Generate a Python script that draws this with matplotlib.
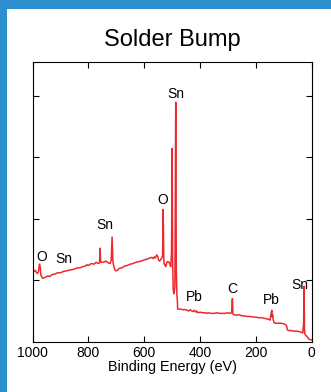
import matplotlib.pyplot as plt
from matplotlib.patches import Rectangle

plt.rcParams['font.family'] = ['Liberation Sans', 'DejaVu Sans']

# XPS survey spectrum (binding energy in eV, counts in tick units)
energy = [1000, 995, 990, 984, 979, 975, 972, 970, 966, 963, 958, 952, 945, 938, 930,
          920, 910, 900, 890, 880, 870, 860, 850, 840, 830, 820, 810, 805, 798, 790,
          780, 772, 764, 760, 758, 756, 752, 745, 738, 734, 728, 722, 718, 715, 712,
          710, 706, 702, 696, 690, 680, 670, 660, 650, 640, 630, 620, 610, 600, 590,
          580, 573, 568, 564, 560, 555, 551, 549, 545, 540, 537, 534, 532, 530, 529,
          526, 523, 518, 513, 509, 505, 502, 500, 498, 496, 493, 490, 487, 485, 483,
          481, 480, 470, 460, 450, 447, 440, 435, 430, 425, 420, 415, 412, 408, 400,
          390, 380, 376, 370, 360, 350, 340, 330, 320, 310, 300, 292, 287, 284, 282,
          280, 270, 260, 250, 240, 230, 220, 209, 200, 190, 180, 170, 160, 152, 149,
          146, 143, 141, 140, 138, 135, 130, 120, 110, 100, 95, 90, 87, 80, 70,
          60, 50, 42, 36, 32, 29, 27, 26, 24, 20, 16, 12, 8, 4, 0]
counts = [1.15, 1.14, 1.16, 1.11, 1.13, 1.26, 1.20, 1.08, 1.05, 1.03, 1.04, 1.05, 1.07, 1.06, 1.09,
          1.10, 1.12, 1.12, 1.14, 1.15, 1.16, 1.17, 1.18, 1.20, 1.20, 1.22, 1.23, 1.25, 1.24, 1.27,
          1.26, 1.29, 1.27, 1.28, 1.52, 1.30, 1.29, 1.29, 1.31, 1.30, 1.28, 1.27, 1.33, 1.70, 1.30,
          1.25, 1.18, 1.15, 1.16, 1.19, 1.20, 1.23, 1.24, 1.26, 1.27, 1.29, 1.30, 1.31, 1.33, 1.34,
          1.36, 1.37, 1.35, 1.38, 1.36, 1.41, 1.38, 1.33, 1.31, 1.34, 1.36, 1.40, 2.15, 1.45, 1.27,
          1.25, 1.22, 1.30, 1.30, 1.27, 1.22, 1.45, 3.14, 1.30, 0.84, 0.78, 0.90, 3.89, 1.20, 0.78,
          0.65, 0.53, 0.53, 0.52, 0.52, 0.51, 0.50, 0.52, 0.50, 0.49, 0.51, 0.48, 0.50, 0.47, 0.48,
          0.47, 0.47, 0.46, 0.47, 0.46, 0.46, 0.47, 0.46, 0.46, 0.46, 0.47, 0.46, 0.47, 0.70, 0.45,
          0.44, 0.43, 0.44, 0.42, 0.42, 0.41, 0.41, 0.40, 0.40, 0.39, 0.39, 0.38, 0.37, 0.36, 0.35,
          0.44, 0.51, 0.40, 0.44, 0.36, 0.31, 0.30, 0.30, 0.30, 0.29, 0.28, 0.26, 0.19, 0.18, 0.18,
          0.17, 0.17, 0.16, 0.15, 0.14, 0.30, 0.90, 0.20, 0.12, 0.10, 0.08, 0.05, 0.04, 0.03, 0.03]

peak_labels = ['O', 'Sn', 'Sn', 'O', 'Sn', 'Pb', 'C', 'Pb', 'Sn']
label_x = [967, 887, 742, 532, 486, 420, 284, 143, 44]
label_y = [1.37, 1.34, 1.90, 2.30, 4.03, 0.73, 0.86, 0.68, 0.92]

fig = plt.figure(figsize=(3.31, 3.92), dpi=100, facecolor='#2e8fcf')
fig.patches.append(Rectangle((7 / 331, 0), 1, 1 - 9 / 392, transform=fig.transFigure,
                             facecolor='white', edgecolor='none', zorder=-1))

ax = fig.add_axes([32.5 / 331, 1 - 341.7 / 392, 279.2 / 331, 280 / 392])
ax.plot(energy, counts, color='#ea2a30', linewidth=1.1)

for t, x, y in zip(peak_labels, label_x, label_y):
    ax.text(x, y, t, ha='center', va='center', fontsize=10)

ax.set_xlim(1000, 0)
ax.set_ylim(0, 4.55)
ax.set_xticks([1000, 800, 600, 400, 200, 0])
ax.set_yticks([1, 2, 3, 4])
ax.set_yticklabels([])
ax.tick_params(direction='in', top=True, right=True, length=4, labelsize=10, pad=3)
ax.set_xlabel('Binding Energy (eV)', fontsize=10.4, labelpad=0)
fig.text(172 / 331, 1 - 40 / 392, 'Solder Bump', ha='center', va='center', fontsize=17)

fig.savefig('out.png', dpi=100, facecolor=fig.get_facecolor())
